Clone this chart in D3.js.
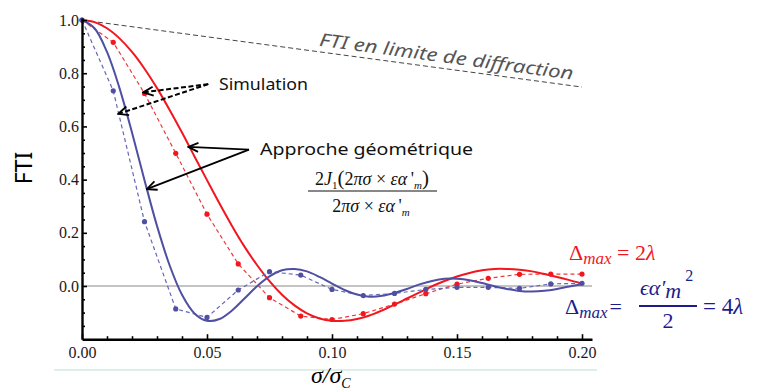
<!DOCTYPE html>
<html>
<head>
<meta charset="utf-8">
<script src="https://cdn.jsdelivr.net/npm/d3@7"></script>
<style>
	body { margin: 0; background: #fff; }
	svg { display: block; }
	.serif { font-family: 'Liberation Serif', 'Times New Roman', 'DejaVu Serif', serif; }
	.msans { font-family: 'Noto Sans', 'DejaVu Sans', sans-serif; }
</style>
</head>
<body>
<div class="content"></div>
<script>
const w = 766;
const h = 392;

const redColor = '#f2161f';
const redDash = '#f03a3a';
const blueColor = '#4f4fa3';
const blueDash = '#6666b8';
const navy = '#1c1c8c';

// approche géométrique (courbes continues)
const geoX = [0, 0.005, 0.01, 0.015, 0.02, 0.025, 0.03, 0.035, 0.04, 0.045,
	0.05, 0.055, 0.06, 0.065, 0.07, 0.075, 0.08, 0.085, 0.09, 0.095,
	0.1, 0.105, 0.11, 0.115, 0.12, 0.125, 0.13, 0.135, 0.14, 0.145,
	0.15, 0.155, 0.16, 0.165, 0.17, 0.175, 0.18, 0.185, 0.19, 0.195, 0.2];
const redGeo = [1, 0.992, 0.969, 0.931, 0.880, 0.817, 0.744, 0.663, 0.577, 0.487,
	0.398, 0.310, 0.226, 0.148, 0.079, 0.018, -0.033, -0.073, -0.103, -0.122,
	-0.131, -0.131, -0.124, -0.111, -0.092, -0.070, -0.047, -0.024, -0.001, 0.019,
	0.036, 0.049, 0.059, 0.064, 0.064, 0.061, 0.055, 0.045, 0.034, 0.022, 0.009];
const blueGeo = [1, 0.969, 0.880, 0.744, 0.577, 0.398, 0.226, 0.079, -0.033, -0.103,
	-0.131, -0.124, -0.092, -0.047, -0.001, 0.036, 0.059, 0.064, 0.055, 0.034,
	0.009, -0.015, -0.032, -0.040, -0.037, -0.026, -0.011, 0.006, 0.019, 0.027,
	0.027, 0.022, 0.011, -0.001, -0.011, -0.019, -0.021, -0.018, -0.011, -0.002, 0.007];

// simulation (points + tirets)
const simX = [0, 0.0125, 0.025, 0.0375, 0.05, 0.0625, 0.075, 0.0875, 0.1,
	0.1125, 0.125, 0.1375, 0.15, 0.1625, 0.175, 0.1875, 0.2];
const redSim = [1, 0.916, 0.724, 0.499, 0.270, 0.083, -0.044, -0.113, -0.126,
	-0.104, -0.068, -0.029, 0.007, 0.029, 0.044, 0.045, 0.045];
const blueSim = [1, 0.734, 0.242, -0.086, -0.118, -0.015, 0.054, 0.041, -0.013,
	-0.036, -0.028, -0.013, -0.005, -0.005, -0.009, 0.008, 0.01];

// FTI en limite de diffraction
const diffX = [0, 0.2];
const diffY = [1, 0.748];

const xTicks = [0, 0.05, 0.1, 0.15, 0.2];
const xTickLabels = ['0.00', '0.05', '0.10', '0.15', '0.20'];
const xMinor = [0.01, 0.02, 0.03, 0.04, 0.06, 0.07, 0.08, 0.09, 0.11, 0.12,
	0.13, 0.14, 0.16, 0.17, 0.18, 0.19];
const yTicks = [0, 0.2, 0.4, 0.6, 0.8, 1.0];
const yTickLabels = ['0.0', '0.2', '0.4', '0.6', '0.8', '1.0'];
const yMinor = [-0.15, -0.1, -0.05, 0.05, 0.1, 0.15, 0.25, 0.3, 0.35, 0.45, 0.5,
	0.55, 0.65, 0.7, 0.75, 0.85, 0.9, 0.95];

const x = d3.scaleLinear().domain([0, 0.204]).range([82, 592]);
const y = d3.scaleLinear().domain([-0.2, 1.008]).range([339.2, 17.9]);

const svg = d3.select('.content').append('svg')
	.attr('width', w)
	.attr('height', h);

const defs = svg.append('defs');
defs.append('marker')
	.attr('id', 'head')
	.attr('viewBox', '0 0 12 12')
	.attr('refX', 11)
	.attr('refY', 6)
	.attr('markerWidth', 12)
	.attr('markerHeight', 12)
	.attr('markerUnits', 'userSpaceOnUse')
	.attr('orient', 'auto')
	.append('path')
	.attr('d', 'M1,1.5 L11,6 L1,10.5')
	.attr('fill', 'none')
	.attr('stroke', '#000')
	.attr('stroke-width', 1.8);

// zero line
svg.append('line')
	.attr('x1', x(0)).attr('x2', x(0.204))
	.attr('y1', y(0)).attr('y2', y(0))
	.attr('stroke', '#8a8a8a')
	.attr('stroke-width', 1.2);

// diffraction limit
svg.append('path')
	.datum(diffX.map((d, i) => [d, diffY[i]]))
	.attr('d', d3.line().x((d) => x(d[0])).y((d) => y(d[1])))
	.attr('fill', 'none')
	.attr('stroke', '#444')
	.attr('stroke-width', 1)
	.attr('stroke-dasharray', '5,3');

const angle = Math.atan2(y(diffY[1]) - y(diffY[0]), x(diffX[1]) - x(diffX[0])) * 180 / Math.PI;
const tx = 0.0944;
const ty = diffY[0] + (diffY[1] - diffY[0]) * tx / diffX[1];
svg.append('text')
	.attr('class', 'msans')
	.attr('transform', `translate(${x(tx)},${y(ty)}) rotate(${angle})`)
	.attr('y', -6)
	.attr('textLength', 256)
	.attr('lengthAdjust', 'spacingAndGlyphs')
	.style('font-style', 'italic')
	.style('font-size', '18px')
	.style('fill', '#555')
	.text('FTI en limite de diffraction');

// curves
const geoLine = d3.line()
	.x((d) => x(d[0]))
	.y((d) => y(d[1]))
	.curve(d3.curveCatmullRom);
const simLine = d3.line()
	.x((d) => x(d[0]))
	.y((d) => y(d[1]));

const series = [
	{ geo: redGeo, sim: redSim, color: redColor, dash: redDash },
	{ geo: blueGeo, sim: blueSim, color: blueColor, dash: blueDash }
];

series.forEach((s) => {
	svg.append('path')
		.datum(simX.map((d, i) => [d, s.sim[i]]))
		.attr('d', simLine)
		.attr('fill', 'none')
		.attr('stroke', s.dash)
		.attr('stroke-width', 1.2)
		.attr('stroke-dasharray', '4,3');

	svg.append('g')
		.selectAll('circle')
		.data(simX.map((d, i) => [d, s.sim[i]]))
		.enter()
		.append('circle')
		.attr('cx', (d) => x(d[0]))
		.attr('cy', (d) => y(d[1]))
		.attr('r', 2.6)
		.attr('fill', s.color);

	svg.append('path')
		.datum(geoX.map((d, i) => [d, s.geo[i]]))
		.attr('d', geoLine)
		.attr('fill', 'none')
		.attr('stroke', s.color)
		.attr('stroke-width', 2);
});

// axes
const tickFont = (g) => {
	g.attr('font-family', null).attr('font-size', null);
	g.selectAll('text')
		.attr('class', 'serif')
		.style('font-size', '16px')
		.style('fill', '#1a1a1a');
};

svg.append('g')
	.attr('transform', 'translate(0,' + y(-0.2) + ')')
	.call(d3.axisBottom(x).tickValues(xMinor).tickSize(-3).tickSizeOuter(0).tickFormat(''))
	.call((g) => g.select('.domain').remove())
	.call((g) => g.selectAll('line').attr('stroke-width', 1.6));

svg.append('g')
	.attr('transform', 'translate(0,' + y(-0.2) + ')')
	.call(d3.axisBottom(x).tickValues(xTicks).tickSize(-5).tickSizeOuter(0)
		.tickPadding(7).tickFormat((d, i) => xTickLabels[i]))
	.call((g) => g.select('.domain').attr('stroke-width', 2.4))
	.call((g) => g.selectAll('line').attr('stroke-width', 1.6))
	.call(tickFont);

svg.append('g')
	.attr('transform', 'translate(' + x(0) + ',0)')
	.call(d3.axisLeft(y).tickValues(yMinor).tickSize(-3).tickSizeOuter(0).tickFormat(''))
	.call((g) => g.select('.domain').remove())
	.call((g) => g.selectAll('line').attr('stroke-width', 1.6));

svg.append('g')
	.attr('transform', 'translate(' + x(0) + ',0)')
	.call(d3.axisLeft(y).tickValues(yTicks).tickSize(-5).tickSizeOuter(0)
		.tickPadding(3).tickFormat((d, i) => yTickLabels[i]))
	.call((g) => g.select('.domain').attr('stroke-width', 2.4))
	.call((g) => g.selectAll('line').attr('stroke-width', 1.6))
	.call(tickFont);

// light rule under the axis
svg.append('line')
	.attr('x1', 54).attr('x2', 597)
	.attr('y1', 370).attr('y2', 370)
	.attr('stroke', '#d3eadf')
	.attr('stroke-width', 1.5);

// axis titles
svg.append('text')
	.attr('class', 'msans')
	.attr('transform', 'translate(32,168) rotate(-90)')
	.attr('text-anchor', 'middle')
	.style('font-size', '23px')
	.text('FTI');

const xTitle = svg.append('text')
	.attr('class', 'serif')
	.attr('x', 311)
	.attr('y', 383)
	.style('font-style', 'italic')
	.style('font-size', '24px');
xTitle.append('tspan').text('σ/σ');
xTitle.append('tspan').attr('dy', 5).style('font-size', '14px').text('C');

// annotations
const annFont = (t) => t
	.attr('class', 'msans')
	.style('font-size', '16.5px')
	.style('fill', '#111');

const arrow = (from, to, dashed) => {
	svg.append('line')
		.attr('x1', x(from[0])).attr('y1', y(from[1]))
		.attr('x2', x(to[0])).attr('y2', y(to[1]))
		.attr('stroke', '#000')
		.attr('stroke-width', dashed ? 2 : 1.8)
		.attr('stroke-dasharray', dashed ? '5,2.5' : null)
		.attr('marker-end', 'url(#head)');
};

const simFrom = [0.0505, 0.759];
arrow(simFrom, [0.0245, 0.728], true);
arrow(simFrom, [0.0145, 0.647], true);

const geoFrom = [0.0668, 0.513];
arrow(geoFrom, [0.0425, 0.523], false);
arrow(geoFrom, [0.0259, 0.364], false);

svg.append('text')
	.attr('x', 219)
	.attr('y', 90)
	.attr('textLength', 89)
	.attr('lengthAdjust', 'spacingAndGlyphs')
	.call(annFont)
	.text('Simulation');

svg.append('text')
	.attr('x', 260)
	.attr('y', 155)
	.attr('textLength', 213)
	.attr('lengthAdjust', 'spacingAndGlyphs')
	.call(annFont)
	.text('Approche géométrique');

// formula
const mathFont = (t) => t
	.attr('class', 'serif')
	.style('font-size', '18px')
	.style('fill', '#111');

const num = svg.append('text')
	.attr('x', 372)
	.attr('y', 185)
	.attr('text-anchor', 'middle')
	.call(mathFont);
num.append('tspan').text('2');
num.append('tspan').style('font-style', 'italic').text('J');
num.append('tspan').attr('dy', 4).style('font-size', '11px').text('1');
num.append('tspan').attr('dy', -4).style('font-size', '21px').text('(');
num.append('tspan').text('2');
num.append('tspan').style('font-style', 'italic').text('πσ');
num.append('tspan').text(' × ');
num.append('tspan').style('font-style', 'italic').text('εα');
num.append('tspan').text('\u2009\'');
num.append('tspan').attr('dy', 4).style('font-size', '11px').style('font-style', 'italic').text('m');
num.append('tspan').attr('dy', -4).style('font-size', '21px').text(')');

svg.append('line')
	.attr('x1', 308).attr('x2', 437)
	.attr('y1', 191).attr('y2', 191)
	.attr('stroke', '#111')
	.attr('stroke-width', 1);

const den = svg.append('text')
	.attr('x', 371)
	.attr('y', 212)
	.attr('text-anchor', 'middle')
	.call(mathFont);
den.append('tspan').text('2');
den.append('tspan').style('font-style', 'italic').text('πσ');
den.append('tspan').text(' × ');
den.append('tspan').style('font-style', 'italic').text('εα');
den.append('tspan').text('\u2009\'');
den.append('tspan').attr('dy', 4).style('font-size', '11px').style('font-style', 'italic').text('m');

// Δmax labels
const labFont = (t) => t
	.attr('class', 'serif')
	.style('font-size', '22px');

const redLab = svg.append('text')
	.attr('x', 569)
	.attr('y', 260)
	.style('fill', redColor)
	.call(labFont);
redLab.append('tspan').text('Δ');
redLab.append('tspan').attr('dy', 4).style('font-size', '17px').style('font-style', 'italic').text('max');
redLab.append('tspan').attr('dy', -4).text(' = 2');
redLab.append('tspan').style('font-style', 'italic').text('λ');

const blueLab = svg.append('text')
	.attr('x', 565)
	.attr('y', 314)
	.style('fill', navy)
	.call(labFont);
blueLab.append('tspan').text('Δ');
blueLab.append('tspan').attr('dy', 4).style('font-size', '17px').style('font-style', 'italic').text('max');
blueLab.append('tspan').attr('dy', -4).attr('dx', 2).text('=');

const bnum = svg.append('text')
	.attr('x', 640)
	.attr('y', 295)
	.style('fill', navy)
	.call(labFont);
bnum.append('tspan').style('font-style', 'italic').text('ϵα′');
bnum.append('tspan').attr('dy', 3).style('font-style', 'italic').text('m');
bnum.append('tspan').attr('dy', -17).attr('dx', 4).style('font-size', '16px').text('2');

svg.append('line')
	.attr('x1', 639).attr('x2', 697)
	.attr('y1', 306).attr('y2', 306)
	.attr('stroke', navy)
	.attr('stroke-width', 2);

svg.append('text')
	.attr('x', 668)
	.attr('y', 328)
	.attr('text-anchor', 'middle')
	.style('fill', navy)
	.call(labFont)
	.text('2');

const fourL = svg.append('text')
	.attr('x', 703)
	.attr('y', 314)
	.style('fill', navy)
	.call(labFont)
	.style('font-size', '23px');
fourL.append('tspan').text('= 4');
fourL.append('tspan').style('font-style', 'italic').text('λ');
</script>
</body>
</html>
